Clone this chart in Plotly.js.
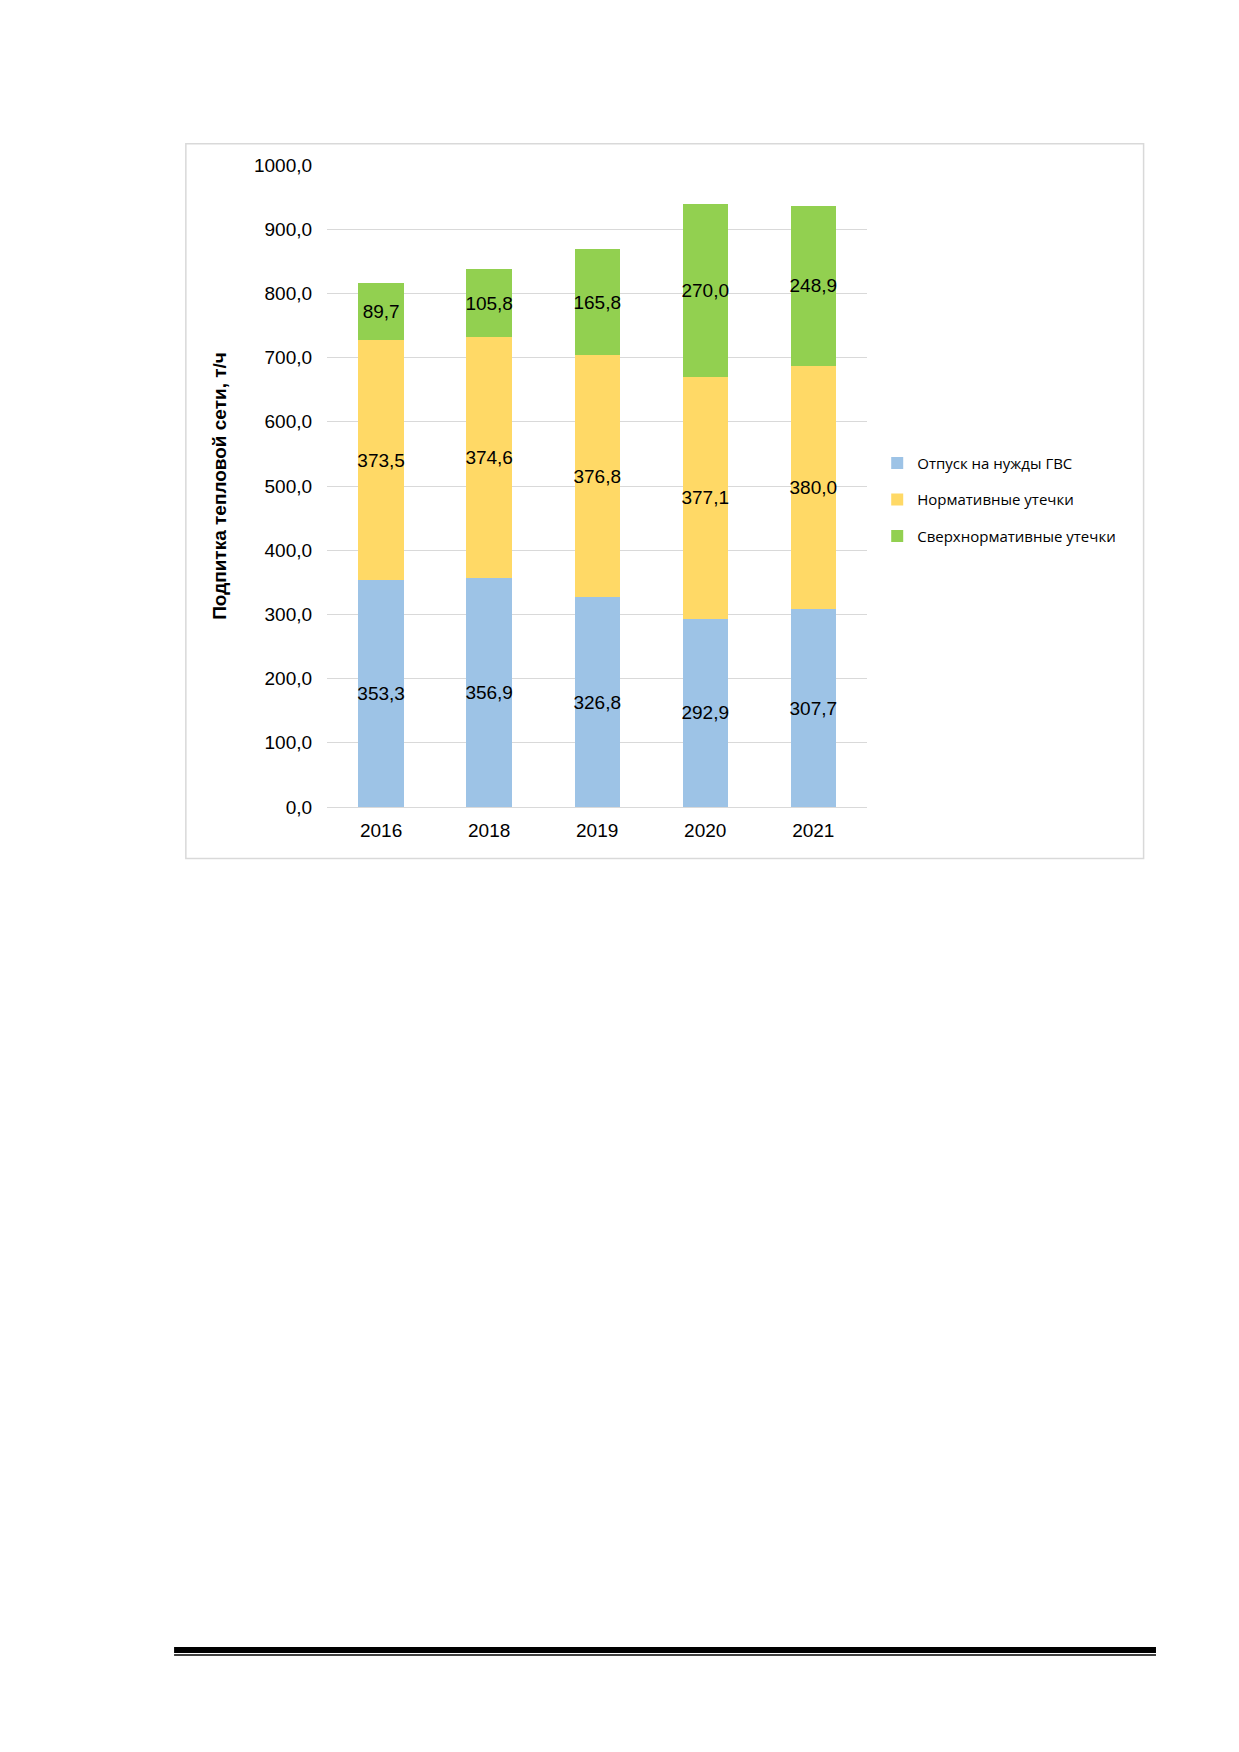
<!DOCTYPE html>
<html><head><meta charset="utf-8">
<script src="https://cdn.plot.ly/plotly-3.0.1.min.js"></script>
<style>body{margin:0;background:#fff}</style></head>
<body><div id="c" style="width:1239px;height:1752px"></div>
<script>
const years = ['2016','2018','2019','2020','2021'];
const gvs = [353.3, 356.9, 326.8, 292.9, 307.7];
const norm = [373.5, 374.6, 376.8, 377.1, 380.0];
const over = [89.7, 105.8, 165.8, 270.0, 248.9];
const names = ['Отпуск на нужды ГВС','Нормативные утечки','Сверхнормативные утечки'];
const colors = ['#9dc3e6','#ffd966','#92d050'];
const fmt = a => a.map(v => v.toFixed(1).replace('.', ','));
const series = [gvs, norm, over];
const traces = series.map((s,i)=>({
  type:'bar', x:years, y:s, name:names[i], legendgroup:'g'+i, marker:{color:colors[i]},
  text:fmt(s), textposition:'inside', insidetextanchor:'middle', textangle:0,
  constraintext:'none',
  textfont:{family:'Liberation Sans, Arial', size:19, color:'#000'},
  hoverinfo:'none'
}));
const layout = {
  width:1239, height:1752, margin:{l:0,r:0,t:0,b:0},
  paper_bgcolor:'#fff', plot_bgcolor:'#fff', barmode:'stack', bargap:0.58,
  separators:',.', uniformtext:{mode:false},
  font:{family:'Liberation Sans, Arial', color:'#000'},
  xaxis:{type:'category', domain:[0.264,0.700], showline:true, linecolor:'#d9d9d9', ticks:'',
    tickfont:{size:19}, ticklabelstandoff:6, fixedrange:true},
  yaxis:{domain:[0.5394,0.9058], range:[0,1000], dtick:100, tickformat:'.1f',
    gridcolor:'#d9d9d9', zeroline:false, ticks:'', tickfont:{size:19}, ticklabelstandoff:14,
    title:{text:'Подпитка тепловой сети, т/ч', font:{size:19, weight:'bold'}, standoff:22}},
  legend:{x:0.708, y:0.745, xanchor:'left', yanchor:'top', traceorder:'reversed+grouped',
    font:{family:'Open Sans', size:15}, itemwidth:30, tracegroupgap:14},
  showlegend:true,
  shapes:[
    {type:'rect', xref:'paper', yref:'paper', x0:0.150, x1:0.923, y0:0.510, y1:0.918,
      line:{color:'#d9d9d9', width:1.5}},
    {type:'line', xref:'paper', yref:'paper', x0:0.1405, x1:0.933, y0:0.0582, y1:0.0582,
      line:{color:'#000', width:6}},
    {type:'line', xref:'paper', yref:'paper', x0:0.1405, x1:0.933, y0:0.0553, y1:0.0553,
      line:{color:'#000', width:1.5}}
  ]
};
Plotly.newPlot('c', traces, layout, {displayModeBar:false});
</script></body></html>
